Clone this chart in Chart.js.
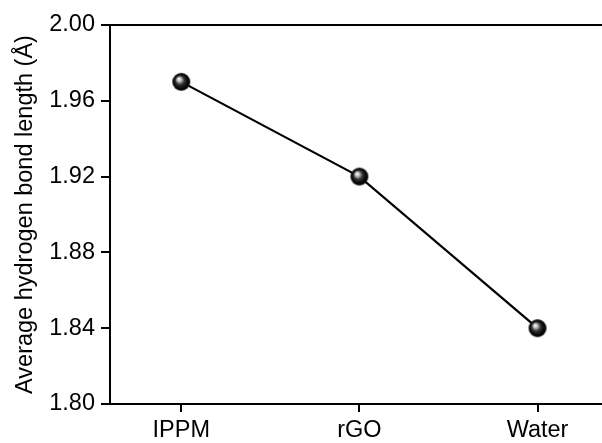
<!DOCTYPE html>
<html>
<head>
<meta charset="utf-8">
<script src="https://cdn.jsdelivr.net/npm/chart.js@4/dist/chart.umd.min.js"></script>
<style>
  html, body { margin: 0; padding: 0; background: #fff; }
  #wrap { width: 602px; height: 443px; overflow: hidden; }
</style>
</head>
<body>
<div id="wrap"><canvas id="chartCanvas" width="620" height="443"></canvas></div>
<script>
const categories = ["IPPM", "rGO", "Water"];
const bondLength = [1.97, 1.92, 1.84];
const yTicks = [1.80, 1.84, 1.88, 1.92, 1.96, 2.00];

// shaded ball used as the point marker
const makeBall = (r) => {
  const c = document.createElement("canvas");
  c.width = c.height = r * 2 + 2;
  const g = c.getContext("2d");
  const cx = r + 1, cy = r + 1;
  const grad = g.createRadialGradient(cx - r * 0.3, cy - r * 0.35, 0, cx, cy, r);
  grad.addColorStop(0, "#ffffff");
  grad.addColorStop(0.2, "#d0d0d0");
  grad.addColorStop(0.5, "#303030");
  grad.addColorStop(0.85, "#000000");
  grad.addColorStop(1, "#222222");
  g.fillStyle = grad;
  g.beginPath();
  g.arc(cx, cy, r, 0, Math.PI * 2);
  g.fill();
  return c;
};

// top frame line
const topLine = {
  id: "topLine",
  afterDraw(chart) {
    const { ctx, chartArea } = chart;
    ctx.save();
    ctx.strokeStyle = "#000";
    ctx.lineWidth = 2;
    ctx.beginPath();
    ctx.moveTo(chartArea.left, chartArea.top);
    ctx.lineTo(chartArea.right + 10, chartArea.top);
    ctx.stroke();
    ctx.restore();
  },
};

const font = { family: "'Liberation Sans', Arial, sans-serif", size: 23.5 };

new Chart(document.getElementById("chartCanvas").getContext("2d"), {
  type: "line",
  data: {
    datasets: [
      {
        data: bondLength.map((v, i) => ({ x: i, y: v })),
        borderColor: "#000",
        borderWidth: 2.2,
        pointStyle: makeBall(9),
        pointRadius: 9,
        tension: 0,
      },
    ],
  },
  options: {
    responsive: false,
    animation: false,
    layout: { padding: { top: 25, right: 4, left: 0, bottom: 0 } },
    plugins: { legend: { display: false }, tooltip: { enabled: false } },
    scales: {
      x: {
        type: "linear",
        min: -0.4,
        max: 2.4,
        afterBuildTicks: (s) => { s.ticks = categories.map((c, i) => ({ value: i })); },
        afterFit: (s) => { s.height = 39; },
        ticks: {
          color: "#000",
          font: font,
          padding: 4,
          maxRotation: 0,
          callback: (v) => categories[v],
        },
        grid: { drawOnChartArea: false, drawTicks: true, tickLength: 8, color: "#000", lineWidth: 2 },
        border: { color: "#000", width: 2 },
      },
      y: {
        min: 1.8,
        max: 2.0,
        afterBuildTicks: (s) => { s.ticks = yTicks.map((v) => ({ value: v })); },
        afterFit: (s) => { s.width = 110; },
        ticks: {
          color: "#000",
          font: font,
          padding: 6,
          callback: (v) => v.toFixed(2),
        },
        grid: { drawOnChartArea: false, drawTicks: true, tickLength: 9, color: "#000", lineWidth: 2 },
        border: { color: "#000", width: 2 },
        title: {
          display: true,
          text: "Average hydrogen bond length (Å)",
          color: "#000",
          font: font,
          padding: { top: 11, bottom: 0 },
        },
      },
    },
  },
  plugins: [topLine],
});
</script>
</body>
</html>
